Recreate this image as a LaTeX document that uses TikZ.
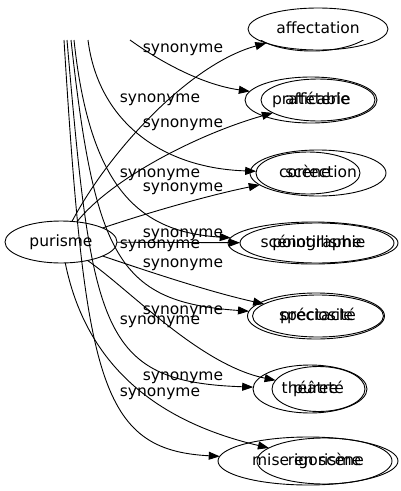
\documentclass[tikz,border=0pt]{standalone}
\usepackage{fontspec}
\setmainfont{DejaVu Sans}
\usetikzlibrary{shapes.geometric,arrows.meta}
\begin{document}
\begin{tikzpicture}[x=1pt,y=-1pt,
  every node/.style={font=\fontsize{15.5}{18}\selectfont, inner sep=0pt, outer sep=0pt,
    text height=11.5pt, text depth=3.5pt},
  word/.style={draw, ellipse, line width=0.9pt},
  lab/.style={},
  conn/.style={line width=0.9pt, -{Triangle[length=11pt,width=8pt]}},
]
\useasboundingbox (0,0) rectangle (400,491);
% source of the first graph
\node[word, minimum width=112pt, minimum height=42pt] (purisme) at (61,242) {purisme};
% targets of the first graph
\node[word, minimum width=140pt, minimum height=42pt] (affectation) at (318,29) {affectation};
\node[word, minimum width=114pt, minimum height=42pt] (afféterie) at (318,100) {afféterie};
\node[word, minimum width=136pt, minimum height=46pt] (correction) at (318,173) {correction};
\node[word, minimum width=154pt, minimum height=40pt] (pointillisme) at (317,243) {pointillisme};
\node[word, minimum width=131pt, minimum height=42pt] (préciosité) at (318,316) {préciosité};
\node[word, minimum width=93pt, minimum height=45pt] (pureté) at (318.5,389) {pureté};
\node[word, minimum width=135pt, minimum height=46pt] (rigorisme) at (324.5,461) {rigorisme};
% targets of the second graph
\begin{scope}
  \clip (0,40) rectangle (400,491);
  \node[word, minimum width=124pt, minimum height=50pt] (g2a) at (312,26) {};
\end{scope}
\node[word, minimum width=132pt, minimum height=46pt] (praticable) at (311,100) {praticable};
\node[word, minimum width=104pt, minimum height=42pt] (scène) at (308,173) {scène};
\node[word, minimum width=170pt, minimum height=42pt] (scénographie) at (313,243) {scénographie};
\node[word, minimum width=137pt, minimum height=46pt] (spectacle) at (316,316) {spectacle};
\node[word, minimum width=114pt, minimum height=48pt] (théâtre) at (310,389) {théâtre};
\node[word, minimum width=180pt, minimum height=48pt] (mise) at (308,461) {mise en scène};
% free ends of the second graph (cut at the top)
\coordinate (t1) at (64,40);
\coordinate (t2) at (67,40);
\coordinate (t3) at (71,40);
\coordinate (t4) at (74,40);
\coordinate (t5) at (88,40);
\coordinate (t6) at (130,40);
% connectors of the first graph
\draw[conn] (purisme) .. controls (110,150) and (190,64) .. (affectation);
\draw[conn] (purisme) .. controls (110,180) and (195,135) .. (afféterie);
\draw[conn] (purisme) .. controls (150,212) and (210,195) .. (correction);
\draw[conn] (purisme) -- (pointillisme);
\draw[conn] (purisme) .. controls (150,272) and (210,292) .. (préciosité);
\draw[conn] (purisme) .. controls (130,290) and (200,365) .. (pureté);
\draw[conn] (purisme) .. controls (85,360) and (150,420) .. (rigorisme);
% connectors of the second graph
\draw[conn] (t6) .. controls (165,65) and (205,85) .. (praticable);
\draw[conn] (t5) .. controls (98,120) and (160,168) .. (scène);
\draw[conn] (t4) .. controls (90,190) and (140,232) .. (scénographie);
\draw[conn] (t3) .. controls (95,260) and (120,302) .. (spectacle);
\draw[conn] (t2) .. controls (92,330) and (100,382) .. (théâtre);
\draw[conn] (t1) .. controls (85,380) and (100,450) .. (mise);
% labels
\node[lab] (l1) at (183,48) {synonyme};
\node[lab] (l2) at (160,98) {synonyme};
\node[lab] (l3) at (183,123) {synonyme};
\node[lab] (l4) at (160,173) {synonyme};
\node[lab] (l5) at (183,187) {synonyme};
\node[lab] (l6) at (183,233) {synonyme};
\node[lab] (l7) at (160,244) {synonyme};
\node[lab] (l8) at (183,263) {synonyme};
\node[lab] (l9) at (183,310) {synonyme};
\node[lab] (l10) at (160,320) {synonyme};
\node[lab] (l11) at (183,376) {synonyme};
\node[lab] (l12) at (160,392) {synonyme};
\end{tikzpicture}
\end{document}
